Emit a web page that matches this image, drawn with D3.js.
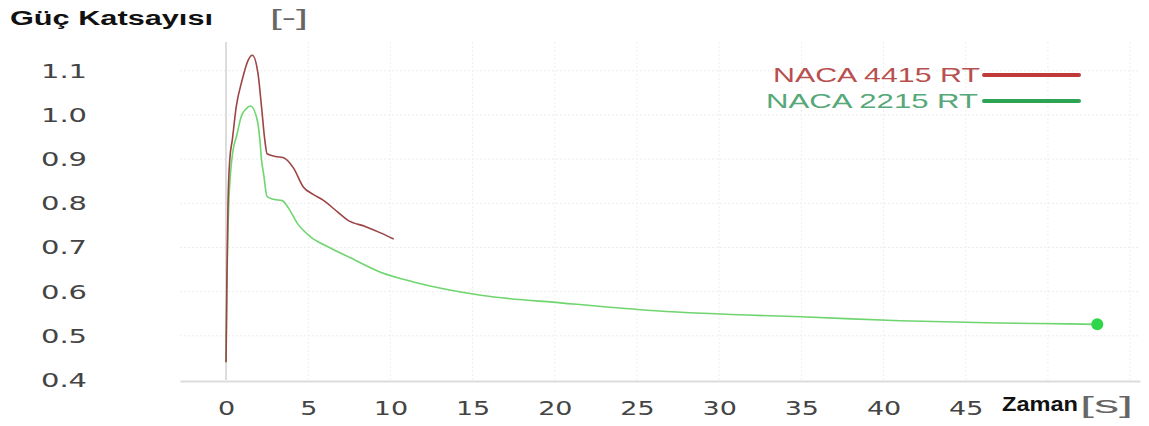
<!DOCTYPE html>
<html>
<head>
<meta charset="utf-8">
<script src="https://cdn.jsdelivr.net/npm/d3@7"></script>
<style>
  html, body { margin: 0; padding: 0; background: #fff; }
  svg { display: block; }
  .tick text { font-family: "DejaVu Sans", sans-serif; }
  .sans { font-family: "Liberation Sans", Arial, sans-serif; }
</style>
</head>
<body>
<svg id="chart" width="1149" height="426"></svg>
<script>
// Power coefficient over time for two rotor blade profiles
const seriesNames = ["NACA 4415 RT", "NACA 2215 RT"];

const timeNaca4415 = [0, 0.05, 0.12, 0.23, 0.38, 0.62, 0.98, 1.35, 1.6, 1.94, 2.16, 2.36, 2.5,
  3.0, 3.5, 4.1, 4.7, 5.3, 5.9, 6.8, 7.4, 8.5, 9.4, 10.2];
const cpNaca4415 = [0.44, 0.62, 0.8, 0.9, 0.943, 1.018, 1.079, 1.124, 1.135, 1.095, 1.018, 0.943, 0.912,
  0.906, 0.903, 0.88, 0.837, 0.82, 0.807, 0.78, 0.762, 0.747, 0.733, 0.719];

const timeNaca2215 = [0, 0.05, 0.15, 0.35, 0.68, 0.92, 1.2, 1.49, 1.9, 2.06, 2.16, 2.28, 2.5, 2.9,
  3.42, 3.8, 4.33, 5.14, 6.16, 7.6, 9.4, 11.4, 15.5, 20.5, 25.6, 31.7, 35, 41, 47.1, 51.2, 53];
const cpNaca2215 = [0.44, 0.6, 0.78, 0.898, 0.958, 0.996, 1.013, 1.02, 0.988, 0.943, 0.898, 0.868, 0.815, 0.809,
  0.806, 0.789, 0.755, 0.724, 0.702, 0.676, 0.644, 0.622, 0.592, 0.574, 0.558, 0.547, 0.543, 0.534, 0.529, 0.527, 0.526];

const xTicks = [0, 5, 10, 15, 20, 25, 30, 35, 40, 45];
const yTicks = [0.4, 0.5, 0.6, 0.7, 0.8, 0.9, 1.0, 1.1];

const svg = d3.select("#chart");

const x = d3.scaleLinear().domain([-2.8, 55.6]).range([180, 1140]);
const y = d3.scaleLinear().domain([0.4, 1.165]).range([380, 42]);

// faint dotted grid
const grid = svg.append("g");
grid.selectAll("line.h").data(yTicks.slice(1)).join("line")
  .attr("x1", x.range()[0]).attr("x2", x.range()[1])
  .attr("y1", d => y(d)).attr("y2", d => y(d))
  .attr("stroke", "#ececec").attr("stroke-width", 1).attr("stroke-dasharray", "2,2");
grid.selectAll("line.v").data(d3.range(5, 56, 5)).join("line")
  .attr("x1", d => x(d)).attr("x2", d => x(d))
  .attr("y1", y.range()[1]).attr("y2", y.range()[0])
  .attr("stroke", "#efefef").attr("stroke-width", 1).attr("stroke-dasharray", "2,2");

// zero time line and time axis line
svg.append("line")
  .attr("x1", x(0)).attr("x2", x(0)).attr("y1", y.range()[1]).attr("y2", y.range()[0])
  .attr("stroke", "#dcdcdc").attr("stroke-width", 2);

const xAxis = svg.append("g")
  .attr("transform", `translate(0,${y.range()[0] + 1})`)
  .call(d3.axisBottom(x).tickValues(xTicks).tickSize(0).tickPadding(21).tickFormat(d3.format("d")));
xAxis.select(".domain").attr("stroke", "#dcdcdc").attr("stroke-width", 2);
xAxis.selectAll("text")
  .attr("fill", "#444").style("font-size", "19px")
  .attr("transform", "scale(1.42,1)");

const yAxis = svg.append("g")
  .attr("transform", "translate(64,0)")
  .call(d3.axisLeft(y).tickValues(yTicks).tickSize(0).tickPadding(0).tickFormat(d3.format(".1f")));
yAxis.select(".domain").remove();
yAxis.selectAll("text")
  .attr("x", 0).attr("text-anchor", "middle")
  .attr("fill", "#444").style("font-size", "20px")
  .attr("transform", "scale(1.45,1)");

// curves
const line = d3.line().x(d => x(d[0])).y(d => y(d[1])).curve(d3.curveMonotoneX);
const red = timeNaca4415.map((t, i) => [t, cpNaca4415[i]]);
const green = timeNaca2215.map((t, i) => [t, cpNaca2215[i]]);

svg.append("path").datum(green)
  .attr("d", line).attr("fill", "none")
  .attr("stroke", "#6fd56f").attr("stroke-width", 1.6);
svg.append("path").datum(red)
  .attr("d", line).attr("fill", "none")
  .attr("stroke", "#9c4446").attr("stroke-width", 1.6);

const last = green[green.length - 1];
svg.append("circle")
  .attr("cx", x(last[0])).attr("cy", y(last[1])).attr("r", 6)
  .attr("fill", "#2fd64a");

// titles
svg.append("text").attr("class", "sans").attr("x", 10).attr("y", 25)
  .attr("font-weight", "bold").attr("font-size", 20).attr("fill", "#111")
  .attr("textLength", 203).attr("lengthAdjust", "spacingAndGlyphs")
  .text("Güç Katsayısı");
svg.append("text").attr("class", "sans").attr("x", 270).attr("y", 25)
  .attr("font-size", 22).attr("fill", "#666")
  .attr("textLength", 38).attr("lengthAdjust", "spacingAndGlyphs")
  .text("[-]");
svg.append("text").attr("class", "sans").attr("x", 1002).attr("y", 411)
  .attr("font-weight", "bold").attr("font-size", 20).attr("fill", "#111")
  .attr("textLength", 76).attr("lengthAdjust", "spacingAndGlyphs")
  .text("Zaman");
svg.append("text").attr("class", "sans").attr("x", 1080).attr("y", 413)
  .attr("font-size", 24).attr("fill", "#666")
  .attr("textLength", 53).attr("lengthAdjust", "spacingAndGlyphs")
  .text("[s]");

// legend
const legendColors = ["#c03a3a", "#2ea354"];
const legendTextColors = ["#b85050", "#55a878"];
const legendY = [75, 101];
const legendTextLeft = [773, 766];
const legendTextWidth = [207, 212];
seriesNames.forEach((name, i) => {
  svg.append("text").attr("class", "sans")
    .attr("x", legendTextLeft[i]).attr("y", legendY[i] + 7)
    .attr("font-size", 21).attr("fill", legendTextColors[i])
    .attr("textLength", legendTextWidth[i]).attr("lengthAdjust", "spacingAndGlyphs")
    .text(name);
  svg.append("line")
    .attr("x1", 984).attr("x2", 1079).attr("y1", legendY[i]).attr("y2", legendY[i])
    .attr("stroke", legendColors[i]).attr("stroke-width", 4).attr("stroke-linecap", "round");
});
</script>
</body>
</html>
